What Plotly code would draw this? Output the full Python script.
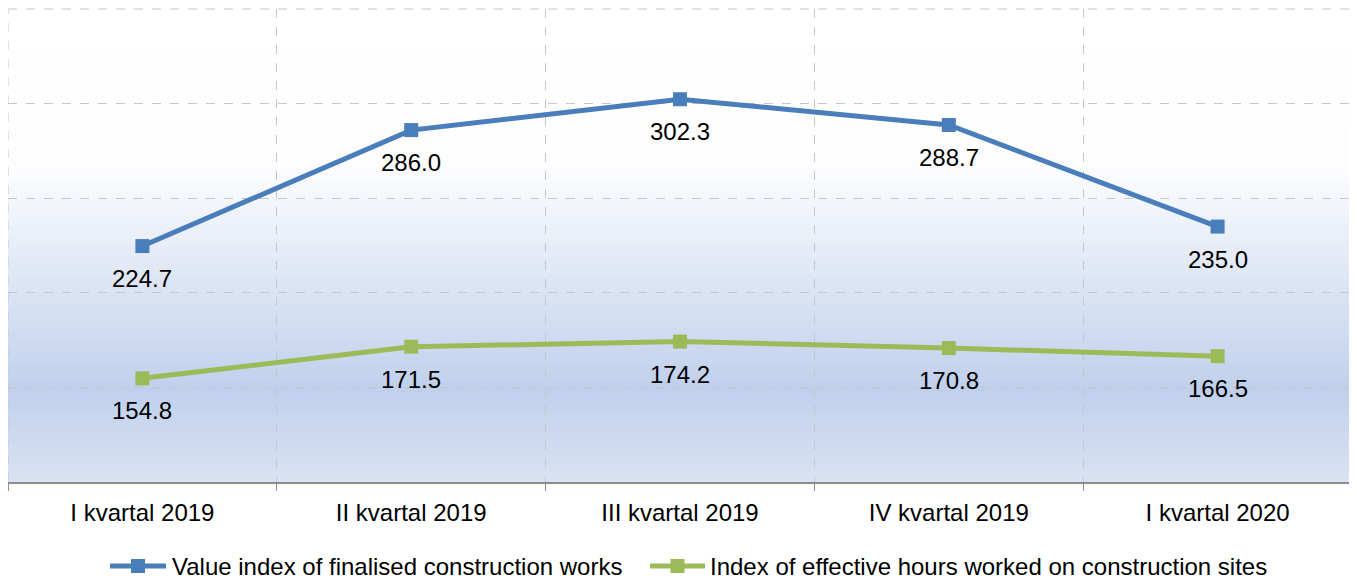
import plotly.graph_objects as go

categories = ["I kvartal 2019", "II kvartal 2019", "III kvartal 2019", "IV kvartal 2019", "I kvartal 2020"]
value_index = [224.7, 286.0, 302.3, 288.7, 235.0]
hours_index = [154.8, 171.5, 174.2, 170.8, 166.5]
series_names = ["Value index of finalised construction works",
                "Index of effective hours worked on construction sites"]

BLUE = "#4a7ebb"
GREEN = "#9bbb59"
FONT = "Liberation Sans, Arial, sans-serif"
GRID = "#c6c6c6"

# figure geometry (page body has an 8px margin: compensate in size and margins)
W, H = 1349, 570
ML, MR, MT, MB = 0, 5, 1, 96
PW, PH = W - ML - MR, H - MT - MB

def px_to_paper_x(px):
    return (px - ML) / PW

def px_to_paper_y(py):
    return (H - MB - py) / PH

fig = go.Figure()
for vals, name, col in [(value_index, series_names[0], BLUE), (hours_index, series_names[1], GREEN)]:
    fig.add_trace(go.Scatter(
        x=categories, y=vals, name=name, mode="lines+markers",
        line=dict(color=col, width=5),
        marker=dict(symbol="square", size=14, color=col),
        showlegend=False,
    ))
    for c, v in zip(categories, vals):
        fig.add_annotation(x=c, y=v, text=f"{v:.1f}", showarrow=False,
                           yanchor="top", yshift=-17,
                           font=dict(family=FONT, size=24, color="#000000"))

# background gradient (white -> light blue -> paler blue)
stops = [(0.0, (218, 226, 242)), (0.195, (192, 208, 236)), (0.67, (253, 253, 254)), (1.0, (255, 255, 255))]
def col_at(t):
    for (t0, c0), (t1, c1) in zip(stops[:-1], stops[1:]):
        if t0 <= t <= t1:
            f = (t - t0) / (t1 - t0) if t1 > t0 else 0
            return "rgb(%d,%d,%d)" % tuple(round(a + (b - a) * f) for a, b in zip(c0, c1))
    return "rgb(255,255,255)"
N = 80
for i in range(N):
    t0, t1 = i / N, (i + 1) / N
    fig.add_shape(type="rect", xref="x domain", yref="y domain", x0=0, x1=1, y0=t0, y1=min(t1 + 0.002, 1),
                  fillcolor=col_at((t0 + t1) / 2), line=dict(width=0), layer="below")

# edge gridlines (top, left, right) that plotly skips at the range ends
for kw in [dict(x0=0, x1=1, y0=1, y1=1), dict(x0=0, x1=0, y0=0, y1=1), dict(x0=1, x1=1, y0=0, y1=1)]:
    fig.add_shape(type="line", xref="x domain", yref="y domain", line=dict(color=GRID, width=1, dash="dash"),
                  layer="below", **kw)

# custom legend (line + square symbol, then text)
legend_items = [(series_names[0], BLUE, 102, 158, 162), (series_names[1], GREEN, 642, 697, 700)]
ly = px_to_paper_y(558)
for name, col, x0, x1, tx in legend_items:
    fig.add_shape(type="line", xref="paper", yref="paper", x0=px_to_paper_x(x0), x1=px_to_paper_x(x1),
                  y0=ly, y1=ly, line=dict(color=col, width=5))
    cx = (x0 + x1) / 2
    fig.add_shape(type="rect", xref="paper", yref="paper",
                  x0=px_to_paper_x(cx - 7), x1=px_to_paper_x(cx + 7),
                  y0=ly - 7 / PH, y1=ly + 7 / PH, fillcolor=col, line=dict(width=0))
    fig.add_annotation(xref="paper", yref="paper", x=px_to_paper_x(tx), y=ly, text=name,
                       showarrow=False, xanchor="left", yanchor="middle",
                       font=dict(family=FONT, size=24, color="#000000"))

fig.update_layout(
    width=W, height=H,
    margin=dict(l=ML, r=MR, t=MT, b=MB, autoexpand=False),
    paper_bgcolor="white", plot_bgcolor="rgba(0,0,0,0)",
    font=dict(family=FONT, size=24, color="#000000"),
    showlegend=False,
)
fig.update_xaxes(
    type="category", tickson="boundaries", range=[-0.5, 4.5],
    showgrid=True, gridcolor=GRID, griddash="dash", gridwidth=1,
    showline=True, linecolor="#8c8c8c", linewidth=2,
    ticks="outside", ticklen=7, tickcolor="#8c8c8c", tickwidth=1,
    ticklabelstandoff=8,
    tickfont=dict(family=FONT, size=24, color="#000000"),
    zeroline=False, automargin=False,
)
fig.update_yaxes(
    range=[100, 350], dtick=50, tick0=0,
    showgrid=True, gridcolor=GRID, griddash="dash", gridwidth=1,
    showticklabels=False, showline=False, zeroline=False, ticks="", automargin=False,
)

fig.write_html("out.html")
